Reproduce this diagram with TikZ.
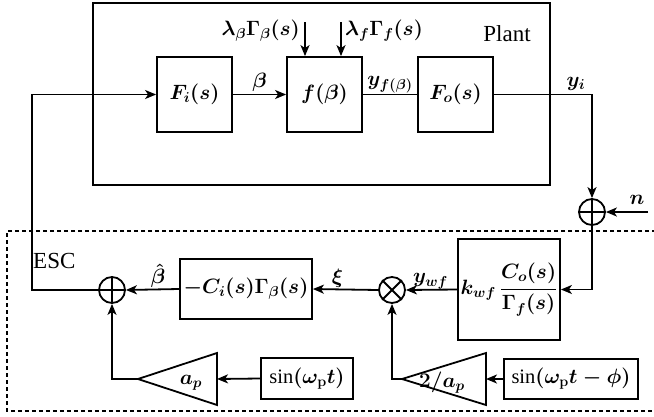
\documentclass[tikz,border=0pt]{standalone}
\usepackage{amsmath}
\usepackage{fontspec}
\setmainfont{Liberation Serif}
\usetikzlibrary{arrows.meta,calc}
\begin{document}
\begin{tikzpicture}[x=1pt,y=-1pt,
  every node/.style={font=\fontsize{20.5}{24}\selectfont\boldmath},
  txt/.style={font=\fontsize{23}{26}\selectfont},
  lw/.style={line width=1.8pt},
  blk/.style={draw,lw,rectangle,inner sep=0pt},
  circ/.style={draw,lw,circle,minimum size=26pt,inner sep=0pt},
  arr/.style={lw,-{Stealth[length=11pt,width=9pt,inset=3pt]}},
  lbl/.style={inner sep=1pt}
]
\useasboundingbox (0,0) rectangle (654,416);
% Plant box
\node[blk,minimum width=457pt,minimum height=182pt] (plant) at (321.5,94) {};
\node[lbl,txt] (plantlbl) at (507,34) {Plant};
% ESC dashed box
\draw[lw,dash pattern=on 4pt off 3pt] (670,231) -- (7,231) -- (7,411) -- (670,411);
\node[lbl,txt,anchor=west] (esclbl) at (32,261) {ESC};
% Plant blocks
\node[blk,minimum width=75pt,minimum height=75pt] (Fi) at (194.5,94.5) {$F_i(s)$};
\node[blk,minimum width=75pt,minimum height=75pt] (f) at (324.5,94.5) {$f(\beta)$};
\node[blk,minimum width=75pt,minimum height=75pt] (Fo) at (455.5,94.5) {$F_o(s)$};
% disturbances
\coordinate (lb) at (305,22);
\coordinate (lf) at (341,22);
\node[lbl,anchor=east] (lbtxt) at (301,31) {$\lambda_\beta\Gamma_\beta(s)$};
\node[lbl,anchor=west] (lftxt) at (344,31) {$\lambda_f\Gamma_f(s)$};
\draw[arr] (lb) -- (lb |- f.north);
\draw[arr] (lf) -- (lf |- f.north);
% connections in plant
\draw[arr] (Fi.east) -- node[lbl,above=1pt] {$\beta$} (f.west);
\draw[lw] (f.east) -- node[lbl,above=0pt] {$y_{f(\beta)}$} (Fo.west);
% summing junction n
\node[circ] (s1) at (592,212) {};
\draw[lw] (s1.north) -- (s1.south) (s1.west) -- (s1.east);
\coordinate (nin) at (648,212);
\node[lbl] (nlbl) at (637,200) {$n$};
\coordinate (corner) at (592,94.5);
\node[lbl] (yilbl) at (576,84) {$y_i$};
\draw[arr] (Fo.east) -- (corner) -- (s1.north);
\draw[arr] (nin) -- (s1.east);
% ESC blocks
\node[blk,minimum width=102pt,minimum height=101pt] (K) at (509,289.5) {$k_{wf}\,\dfrac{C_o(s)}{\Gamma_f(s)}$};
\node[circ] (m) at (392,290) {};
\draw[lw] (m.north west) -- (m.south east) (m.north east) -- (m.south west);
\node[blk,minimum width=132pt,minimum height=60pt] (Ci) at (246,289) {$-C_i(s)\Gamma_\beta(s)$};
\node[circ] (s2) at (112,290) {};
\draw[lw] (s2.north) -- (s2.south) (s2.west) -- (s2.east);
\draw[arr] (s1.south) |- (K.east);
\draw[arr] (K.west) -- node[lbl,above=-1pt,xshift=-1pt] {$y_{wf}$} (m.east);
\draw[arr] (m.west) -- node[lbl,above=0pt,xshift=-8pt] {$\xi$} (Ci.east);
\draw[arr] (Ci.west) -- (s2.east);
\node[lbl] (bhat) at (158,276) {$\hat{\beta}$};
\draw[arr] (s2.west) -- (32,290) |- (Fi.west);
% perturbation path
\node[blk,minimum width=92pt,minimum height=41pt] (sin1) at (307,378.5) {$\text{sin}(\omega_{\mathbf{p}}t)$};
\node[blk,minimum width=134pt,minimum height=40pt] (sin2) at (571,379) {$\text{sin}(\omega_{\mathbf{p}}t-\phi)$};
\coordinate (t1tip) at (138,379);
\coordinate (t1in) at (217,379);
\draw[lw,line join=miter] (t1tip) -- (217,353) -- (217,405) -- cycle;
\node[lbl] (t1lbl) at (191,383) {$a_p$};
\coordinate (t2tip) at (402,379);
\coordinate (t2in) at (486,379);
\draw[lw,line join=miter] (t2tip) -- (486,353) -- (486,405) -- cycle;
\node[lbl] (t2lbl) at (442,383) {$2/a_p$};
\draw[arr] (sin1.west) -- (t1in);
\draw[arr] (sin2.west) -- (t2in);
\draw[arr] (t1tip) -| (s2.south);
\draw[arr] (t2tip) -| (m.south);
\end{tikzpicture}
\end{document}
